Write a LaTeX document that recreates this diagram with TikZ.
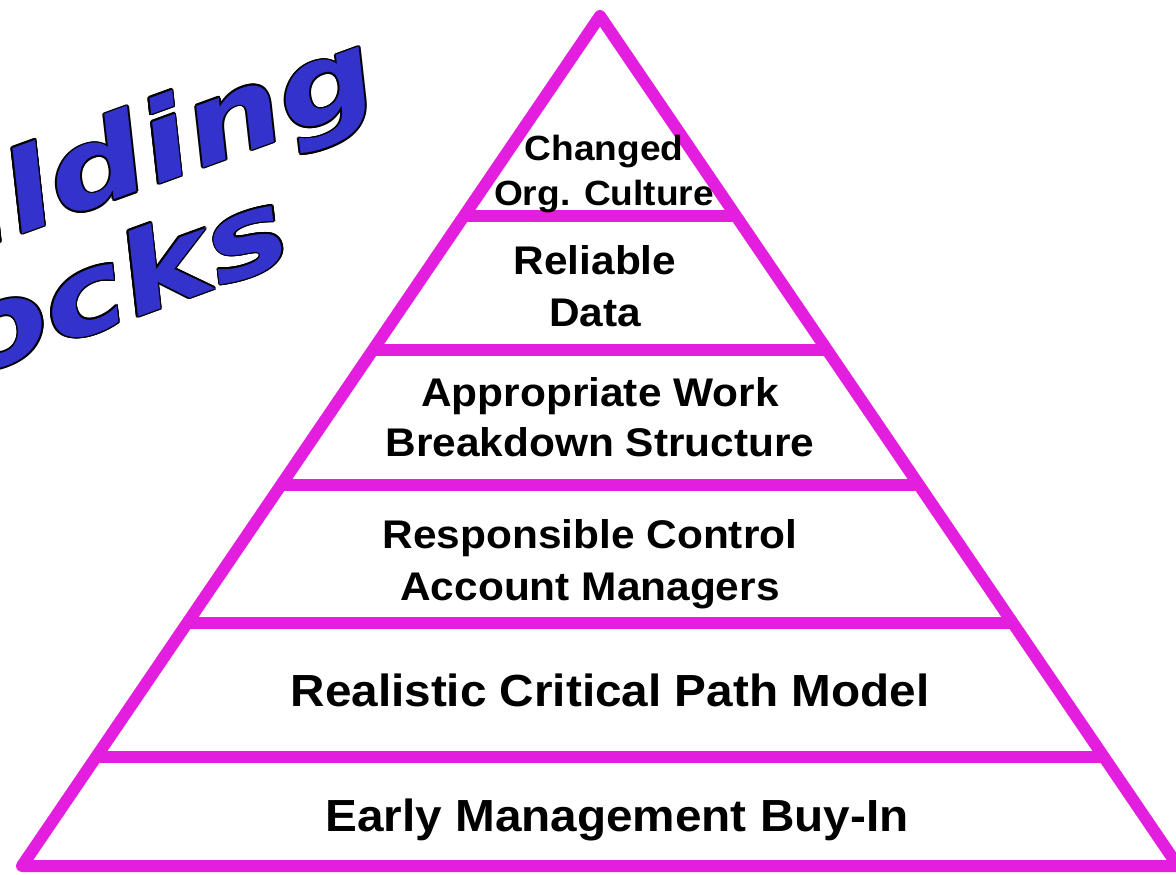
\documentclass[tikz,border=0pt]{standalone}
\usepackage{fontspec}
\usepackage{xcolor}
\usepackage{tikz}
\usetikzlibrary{calc}

\newfontfamily\pyrfont[FakeStretch=1.06]{Liberation Sans}
\newfontfamily\blockfont[FakeStretch=1.25]{DejaVu Sans Bold Oblique}
\definecolor{pyrpink}{RGB}{228,30,222}
\definecolor{blockblue}{RGB}{51,51,204}

\begin{document}
\begin{tikzpicture}[
  x=1pt, y=-1pt,
  tier/.style={draw=pyrpink, line width=12pt},
  tiertext/.style 2 args={align=center, anchor=base, inner sep=0pt,
    font=\pyrfont\bfseries\fontsize{#1}{#2}\selectfont},
  word/.style={font=\blockfont\fontsize{110}{110}\selectfont, text=blockblue,
    rotate=20, anchor=base east, inner sep=0pt}
]
\useasboundingbox (0,0) rectangle (1176,875);
\clip (0,0) rectangle (1176,875);

% title, outlined by black copies behind the blue one
\coordinate (bend) at (384,102);
\coordinate (kend) at (297,259);
\foreach \a in {0,30,...,330} {
  \node[word, text=black] at ($(bend)+(\a:1.6)$) {Building};
  \node[word, text=black] at ($(kend)+(\a:1.6)$) {Blocks};
}
\node[word] (building) at (bend) {Building};
\node[word] (blocks) at (kend) {Blocks};

% pyramid
\coordinate (apex) at (600,16);
\coordinate (baseL) at (22,866);
\coordinate (baseR) at (1178,866);
\draw[tier, line join=round] (apex) -- (baseL) -- (baseR) -- cycle;
\foreach \t in {0.2353,0.393,0.5518,0.7141,0.8718}
  \draw[tier] ($(apex)!\t!(baseL)$) -- ($(apex)!\t!(baseR)$);

% base anchor sits on the last line
\node[tiertext={35}{45}] (culture) at (604,205) {Changed\\Org. Culture};
\node[tiertext={40}{52}] (data) at (595,326) {Reliable\\Data};
\node[tiertext={40}{49.5}] (wbs) at (600,456) {Appropriate Work\\Breakdown Structure};
\node[tiertext={40}{52}] (cam) at (590,600) {Responsible Control\\Account Managers};
\node[tiertext={45}{54}] (cpm) at (610,706) {Realistic Critical Path Model};
\node[tiertext={45}{54}] (buyin) at (617,831) {Early Management Buy-In};
\end{tikzpicture}
\end{document}
